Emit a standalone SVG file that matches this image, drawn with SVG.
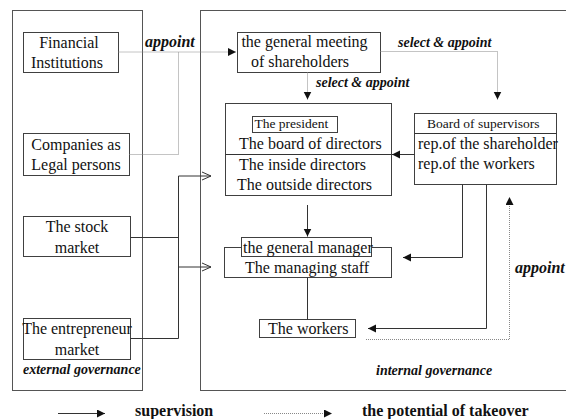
<svg xmlns="http://www.w3.org/2000/svg" width="566" height="419" viewBox="0 0 566 419">
<defs>
<style>
.box{fill:#fff;stroke:#404040;stroke-width:1}
.frame{fill:none;stroke:#555;stroke-width:1}
.t{font-family:"Liberation Serif","Times New Roman","DejaVu Serif",serif;font-size:16px;fill:#111}
.ts{font-family:"Liberation Serif","Times New Roman","DejaVu Serif",serif;font-size:13.5px;fill:#111}
.lab{font-family:"Liberation Serif","Times New Roman","DejaVu Serif",serif;font-weight:bold;font-style:italic;fill:#111}
.leg{font-family:"Liberation Serif","Times New Roman","DejaVu Serif",serif;font-weight:bold;font-size:16px;fill:#111}
.sol{fill:none;stroke:#333;stroke-width:1}
.dot{fill:none;stroke:#888;stroke-width:1;stroke-dasharray:1 1}
</style>
<marker id="af" markerUnits="userSpaceOnUse" markerWidth="9" markerHeight="9" refX="8" refY="4" orient="auto">
<path d="M0,0 L8,4 L0,8 z" fill="#111"/>
</marker>
<marker id="ao" markerUnits="userSpaceOnUse" markerWidth="12" markerHeight="12" refX="10" refY="5" orient="auto">
<path d="M1,1 L10,5 L1,9" fill="none" stroke="#333" stroke-width="1"/>
</marker>
</defs>
<rect width="566" height="419" fill="#fff"/>

<g id="external-frame">
<rect class="frame" x="12.5" y="10.5" width="130" height="380"/>
<text class="lab" x="23" y="374" font-size="14">external governance</text>
</g>
<g id="internal-frame">
<rect class="frame" x="200.5" y="10.5" width="400" height="380"/>
<text class="lab" x="376" y="375" font-size="14">internal governance</text>
</g>

<g id="financial">
<rect class="box" x="23.5" y="32.5" width="95" height="40"/>
<text class="t" x="69" y="47.5" text-anchor="middle">Financial</text>
<text class="t" x="67" y="67.5" text-anchor="middle">Institutions</text>
</g>
<g id="companies">
<rect class="box" x="23.5" y="133.5" width="106" height="42"/>
<text class="t" x="76" y="150" text-anchor="middle">Companies as</text>
<text class="t" x="76" y="170" text-anchor="middle">Legal persons</text>
</g>
<g id="stock">
<rect class="box" x="23.5" y="216.5" width="107" height="40"/>
<text class="t" x="77" y="232" text-anchor="middle">The stock</text>
<text class="t" x="77" y="252.5" text-anchor="middle">market</text>
</g>
<g id="entrepreneur">
<rect class="box" x="23.5" y="318.5" width="107" height="41"/>
<text class="t" x="77" y="334" text-anchor="middle">The entrepreneur</text>
<text class="t" x="77" y="355" text-anchor="middle">market</text>
</g>

<g id="meeting">
<rect class="box" x="237.5" y="32.5" width="143" height="40"/>
<text class="t" x="304.5" y="47" text-anchor="middle">the general meeting</text>
<text class="t" x="300" y="67" text-anchor="middle">of shareholders</text>
</g>

<g id="board">
<rect class="box" x="225.5" y="103.5" width="166" height="92"/>
<line class="sol" x1="225.5" y1="154.5" x2="391.5" y2="154.5"/>
<rect class="box" x="252.5" y="116.5" width="85" height="16"/>
<text class="ts" x="254.5" y="127.5">The president</text>
<text class="t" x="239" y="149">The board of directors</text>
<text class="t" x="239" y="170">The inside directors</text>
<text class="t" x="237" y="190">The outside directors</text>
</g>

<g id="supervisors">
<rect class="box" x="414.5" y="113.5" width="142" height="71"/>
<line class="sol" x1="414.5" y1="133.5" x2="556.5" y2="133.5"/>
<text class="ts" x="427" y="127.5">Board of supervisors</text>
<text class="t" x="418" y="149">rep.of the shareholder</text>
<text class="t" x="418" y="169">rep.of the workers</text>
</g>

<g id="manager">
<rect class="box" x="224.5" y="247.5" width="167" height="30"/>
<rect class="box" x="241.5" y="237.5" width="130" height="19"/>
<text class="t" x="243" y="253">the general manager</text>
<text class="t" x="245" y="273">The managing staff</text>
</g>

<g id="workers">
<rect class="box" x="259.5" y="319.5" width="96" height="18"/>
<text class="t" x="268" y="333.5">The workers</text>
</g>

<g id="connectors">
<path class="dot" d="M118.5,52 H236" marker-end="url(#af)"/>
<path class="dot" d="M129.5,154.5 H178.5 V52"/>
<text class="lab" x="145" y="47" font-size="16">appoint</text>

<path class="dot" d="M380.5,51.5 H497.5 V99.5" marker-end="url(#af)"/>
<text class="lab" x="398" y="47" font-size="14">select &amp; appoint</text>
<path class="dot" d="M307.5,72.5 V99.5" marker-end="url(#af)"/>
<text class="lab" x="316" y="87" font-size="14">select &amp; appoint</text>

<path class="sol" d="M414.5,154.5 H392" marker-end="url(#af)"/>
<path class="sol" d="M307.5,205 V236.5" marker-end="url(#af)"/>
<path class="sol" d="M307.5,277.5 V319.5"/>
<path class="sol" d="M462.5,184.5 V257.5 H403" marker-end="url(#af)"/>
<path class="sol" d="M486.5,184.5 V328.5 H368" marker-end="url(#af)"/>

<path class="dot" d="M366,339.5 H509.5 V197" marker-end="url(#af)"/>
<text class="lab" x="515" y="272.5" font-size="16">appoint</text>

<path class="sol" d="M130.5,237.5 H178.5"/>
<path class="sol" d="M130.5,338.5 H178.5"/>
<path class="sol" d="M178.5,176 V338.5"/>
<path class="sol" d="M178.5,176 H211" marker-end="url(#ao)"/>
<path class="sol" d="M178.5,267 H211" marker-end="url(#ao)"/>
</g>

<g id="legend">
<path class="sol" d="M58,413.5 H105" marker-end="url(#af)"/>
<text class="leg" x="135" y="416">supervision</text>
<path class="dot" d="M264,413.5 H332" marker-end="url(#af)"/>
<text class="leg" x="362" y="416">the potential of takeover</text>
</g>
</svg>
